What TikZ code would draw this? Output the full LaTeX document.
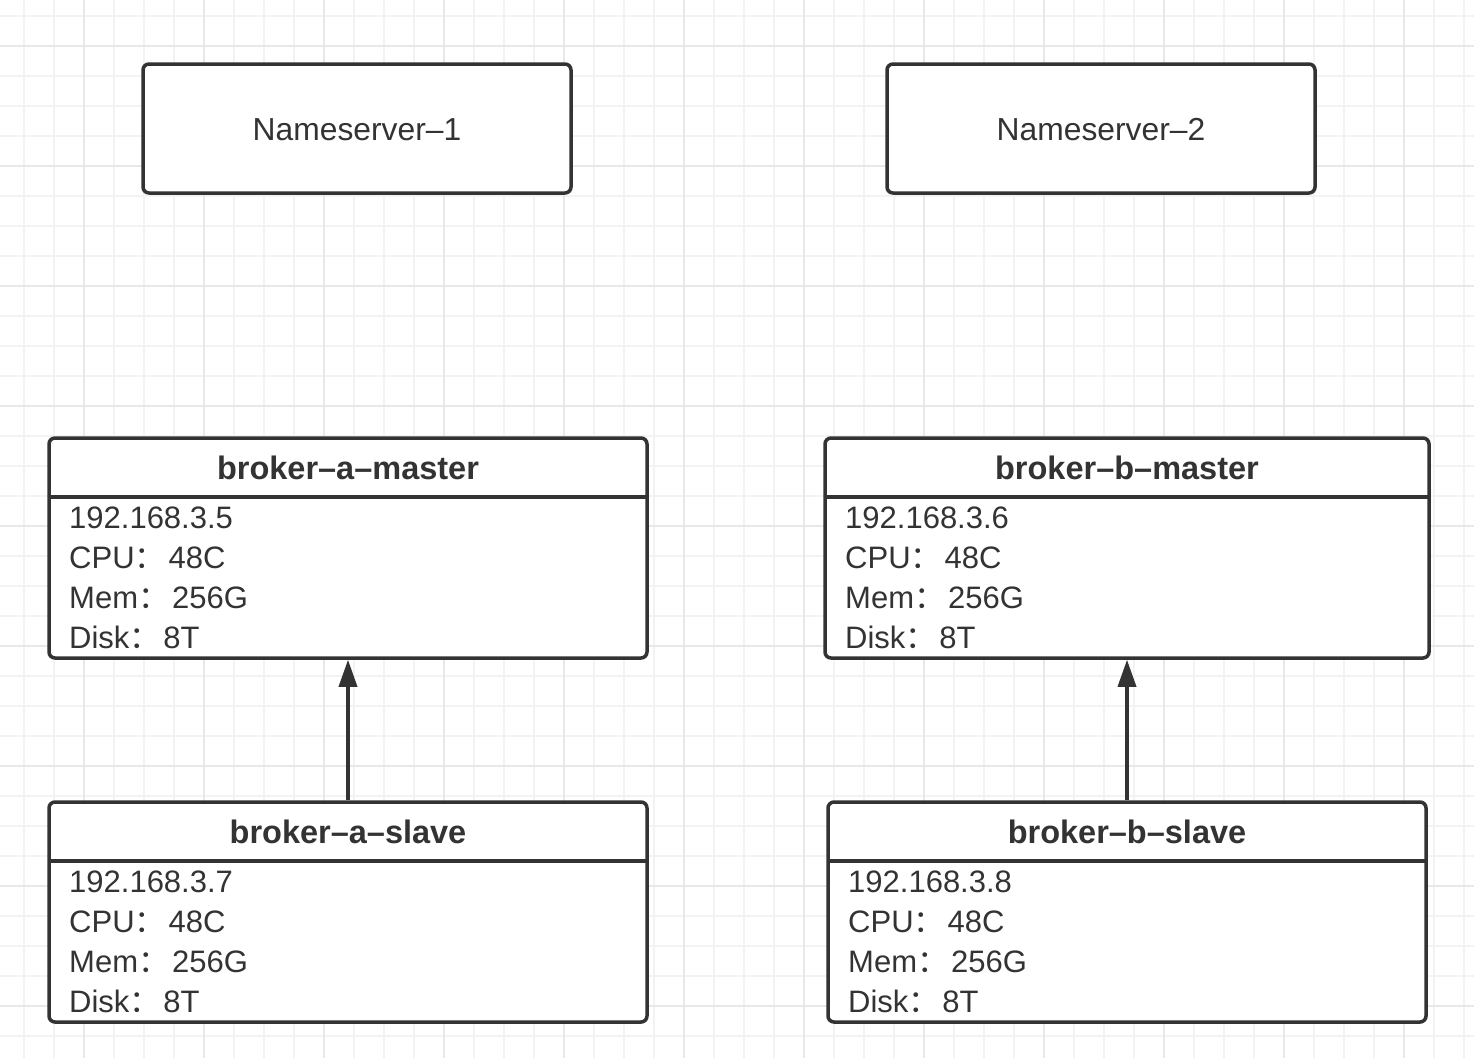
\documentclass[tikz,border=0pt]{standalone}
\usepackage{fontspec}
\setmainfont{Liberation Sans}
\newfontfamily\cjk{Noto Sans CJK SC}
\usetikzlibrary{arrows.meta}
\definecolor{ink}{HTML}{333333}
\definecolor{gridminor}{HTML}{F3F3F3}
\definecolor{gridmajor}{HTML}{E8E8E8}
\tikzset{box/.style = {draw = ink, line width = 3.5pt, rounded corners = 6pt, fill = white, inner sep = 0}}
\tikzset{title/.style = {font = \fontsize{32.5}{38}\selectfont\bfseries, text = ink, inner sep = 0, anchor = base}}
\tikzset{plain/.style = {font = \fontsize{31.8}{36}\selectfont, text = ink, inner sep = 0, anchor = base}}
\tikzset{info/.style = {font = \fontsize{31}{40}\selectfont, text = ink, align = left, inner sep = 0, anchor = north west}}
\tikzset{link/.style = {draw = ink, line width = 3.5pt, -{Triangle[length = 27pt, width = 18pt]}}}
\newcommand{\col}{{\cjk ：}\kern3pt}

\begin{document}
\begin{tikzpicture}[x = 1pt, y = -1pt]
      \useasboundingbox (0, 0) rectangle (1474, 1058);
      \fill [white] (0, 0) rectangle (1474, 1058);
      % grid
      \foreach \x in {24, 54, ..., 1474} \draw [gridminor, line width = 1.5pt] (\x, 0) -- (\x, 1058);
      \foreach \y in {16, 46, ..., 1058} \draw [gridminor, line width = 1.5pt] (0, \y) -- (1474, \y);
      \foreach \x in {84, 204, ..., 1474} \draw [gridmajor, line width = 1.5pt] (\x, 0) -- (\x, 1058);
      \foreach \y in {46, 166, ..., 1058} \draw [gridmajor, line width = 1.5pt] (0, \y) -- (1474, \y);
      % name servers
      \node [box, minimum width = 428, minimum height = 129] (ns1) at (357, 128.5) {};
      \node [plain] (ns1text) at (357, 140) {Nameserver–1};
      \node [box, minimum width = 428, minimum height = 129] (ns2) at (1101, 128.5) {};
      \node [plain] (ns2text) at (1101, 140) {Nameserver–2};
      % brokers
      \node [box, minimum width = 598, minimum height = 220] (amaster) at (348, 548) {};
      \draw [ink, line width = 3.5pt] (49, 497) -- (647, 497);
      \node [title] (amastertitle) at (348, 479) {broker–a–master};
      \node [info] (amasterinfo) at (69, 507) {192.168.3.5\\CPU\col48C\\Mem\col256G\\Disk\col8T};
      \node [box, minimum width = 604, minimum height = 220] (bmaster) at (1127, 548) {};
      \draw [ink, line width = 3.5pt] (825, 497) -- (1429, 497);
      \node [title] (bmastertitle) at (1127, 479) {broker–b–master};
      \node [info] (bmasterinfo) at (845, 507) {192.168.3.6\\CPU\col48C\\Mem\col256G\\Disk\col8T};
      \node [box, minimum width = 598, minimum height = 220] (aslave) at (348, 912) {};
      \draw [ink, line width = 3.5pt] (49, 861) -- (647, 861);
      \node [title] (aslavetitle) at (348, 843) {broker–a–slave};
      \node [info] (aslaveinfo) at (69, 871) {192.168.3.7\\CPU\col48C\\Mem\col256G\\Disk\col8T};
      \node [box, minimum width = 598, minimum height = 220] (bslave) at (1127, 912) {};
      \draw [ink, line width = 3.5pt] (828, 861) -- (1426, 861);
      \node [title] (bslavetitle) at (1127, 843) {broker–b–slave};
      \node [info] (bslaveinfo) at (848, 871) {192.168.3.8\\CPU\col48C\\Mem\col256G\\Disk\col8T};
      % replication
      \draw [link] (aslave.north) -- (amaster.south);
      \draw [link] (bslave.north) -- (bmaster.south);
    \end{tikzpicture}
\end{document}
